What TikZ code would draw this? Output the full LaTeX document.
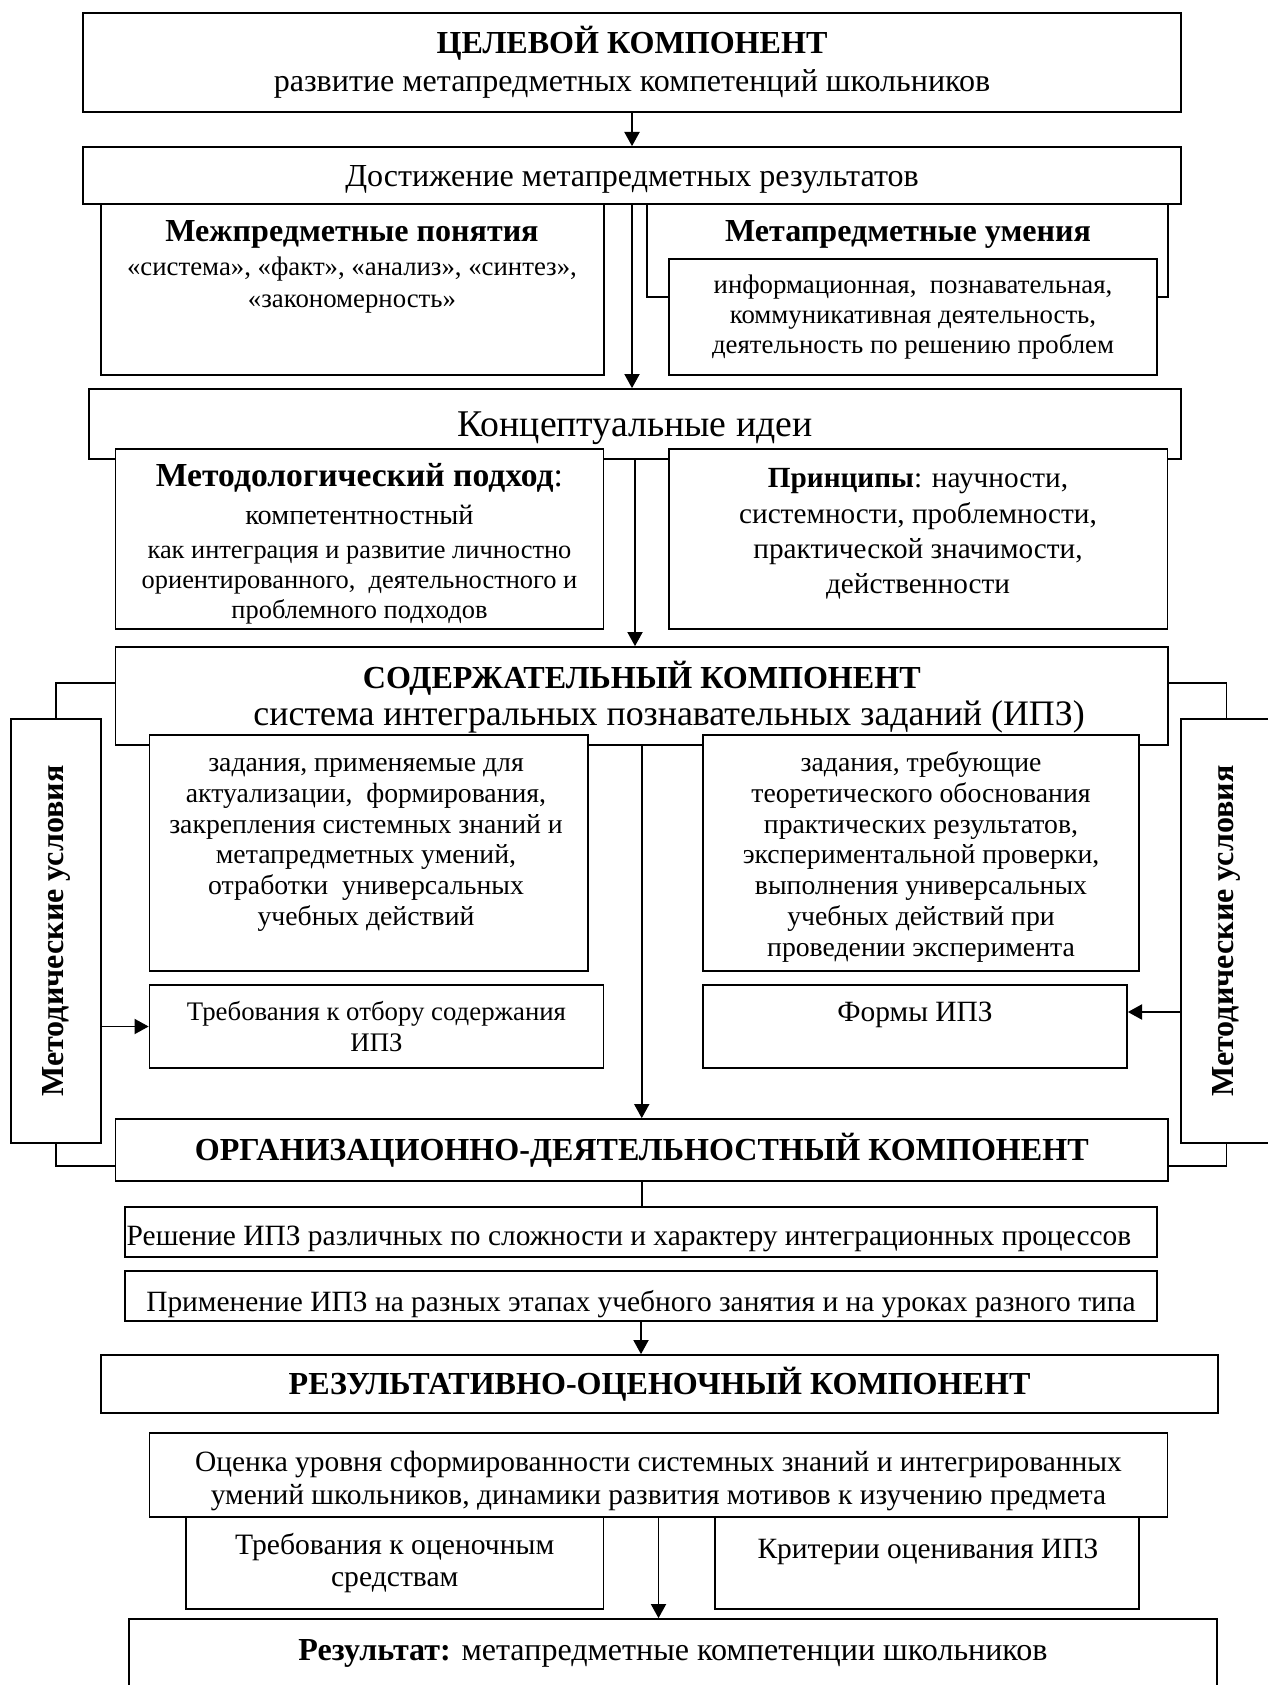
\documentclass[tikz,border=0pt]{standalone}
\usepackage{fontspec}
\setmainfont{Liberation Serif}
\usepackage{tikz}
\usetikzlibrary{arrows.meta,positioning}

\begin{document}
\begin{tikzpicture}[x=0.53pt, y=-0.53pt,
    box/.style={draw, line width=0.9pt, fill=white, inner sep=0pt, align=center},
    wh/.style 2 args={minimum width=#1*0.53pt, minimum height=#2*0.53pt},
    txt/.style={inner sep=0pt, align=center},
    link/.style={line width=0.9pt},
    arr/.style={line width=0.9pt, -{Triangle[length=7.5pt, width=8pt]}},
    f14/.style={font=\fontsize{14.2}{16}\selectfont},
    f15/.style={font=\fontsize{15.6}{18}\selectfont},
    f17/.style={font=\fontsize{17}{19.9}\selectfont},
    vert/.style={font=\fontsize{17}{19.9}\selectfont\bfseries}]
    \useasboundingbox (0,0) rectangle (1267,1685);

    % Goal component
    \node[box, f17, wh={1098}{99}] (goal) at (632,62.5) {\textbf{ЦЕЛЕВОЙ КОМПОНЕНТ}\\развитие метапредметных компетенций школьников};
    \node[box, wh={1098}{57}] (achieve) at (632,175.5) {};
    \node[txt, f17] (achievetxt) at (632,179) {Достижение метапредметных результатов};
    \draw[arr] (goal.south) -- (goal.south |- achieve.north);

    \node[box, wh={503}{171}] (concepts) at (352.5,289.5) {};
    \node[txt, f14] (conceptstxt) at (352,267) {{\fontsize{17}{19.9}\selectfont\bfseries Межпредметные понятия}\\[2pt]«система», «факт», «анализ», «синтез»,\\[1pt]«закономерность»};
    \node[box, wh={521}{93}] (skills) at (907.5,250.5) {};
    \node[txt, f17] (skillstxt) at (908,234) {\textbf{Метапредметные умения}};
    \node[box, f14, wh={488}{116}] (skillsin) at (913,317) {информационная,\ \ познавательная,\\коммуникативная деятельность,\\деятельность по решению проблем};

    % Conceptual ideas
    \node[box, wh={1092}{70}] (ideas) at (635,424) {};
    \node[txt, font=\fontsize{20}{23}\selectfont] (ideastxt) at (635,428) {Концептуальные идеи};
    \draw[arr] (achieve.south) -- (achieve.south |- ideas.north);
    \node[box, wh={488}{180}] (approach) at (359.5,539) {};
    \node[txt, font=\fontsize{14}{16}\selectfont] (approachtxt) at (359.5,544) {{\fontsize{17.8}{20}\selectfont\textbf{Методологический подход}:}\\[3.9pt]{\fontsize{15}{18}\selectfont компетентностный}\\[2pt]как интеграция и развитие личностно\\ориентированного,\ \ деятельностного и\\проблемного подходов};
    \node[box, wh={498.5}{180}] (principles) at (918.25,539) {};
    \node[txt, font=\fontsize{15.5}{18.8}\selectfont] (principlestxt) at (918,534) {\textbf{Принципы}: научности,\\системности, проблемности,\\практической значимости,\\действенности};

    % Content component
    \node[box, f17, wh={1052.5}{98}] (content) at (641.75,696) {};
    \node[txt, f17] (contenttxt) at (641.75,697) {\textbf{СОДЕРЖАТЕЛЬНЫЙ КОМПОНЕНТ}\\{\fontsize{19}{20}\selectfont\hspace*{29pt}система интегральных познавательных заданий (ИПЗ)}};
    \draw[arr] (ideas.south) -- (ideas.south |- content.north);
    \node[box, wh={438.5}{236}] (tasksl) at (368.75,853) {};
    \node[txt, font=\fontsize{14.7}{16.3}\selectfont] (taskstxtl) at (366,845) {задания, применяемые для\\актуализации,\ \ формирования,\\закрепления системных знаний и\\метапредметных умений,\\отработки\ \ универсальных\\учебных действий};
    \node[box, wh={436}{236}] (tasksr) at (921,853) {};
    \node[txt, font=\fontsize{14.7}{16.3}\selectfont] (taskstxtr) at (921,857) {задания, требующие\\теоретического обоснования\\практических результатов,\\экспериментальной проверки,\\выполнения универсальных\\учебных действий при\\проведении эксперимента};
    \node[box, f14, wh={454}{83}] (selreq) at (376.5,1026.5) {Требования к отбору содержания\\ИПЗ};
    \node[box, wh={424}{83}] (forms) at (915,1026.5) {};
    \node[txt, f15] (formstxt) at (915,1015) {Формы ИПЗ};

    % Methodical conditions
    \node[box, vert, rotate=90, wh={424}{90}] (condl) at (56,931) {Методические условия};
    \node[box, vert, rotate=90, wh={424}{91}] (condr) at (1226.5,931) {Методические условия};

    % Organisational component
    \node[box, f17, wh={1052.5}{62}] (org) at (641.75,1150) {\textbf{ОРГАНИЗАЦИОННО-ДЕЯТЕЛЬНОСТНЫЙ КОМПОНЕНТ}};
    \draw[arr] (content.south) -- (org.north);
    \draw[link] (content.west |- 0,683) -| (condl.east);
    \draw[link] (condl.west) |- (org.west |- 0,1166);
    \draw[link] (content.east |- 0,683) -| (condr.east);
    \draw[link] (condr.west) |- (org.east |- 0,1166);
    \draw[arr] (condl.south |- selreq.west) -- (selreq.west);
    \draw[arr] (condr.north |- 0,1012) -- (forms.east |- 0,1012);

    \node[box, wh={1032}{50}] (solve) at (641,1232) {};
    \node[txt, f15] (solvetxt) at (629,1239) {Решение ИПЗ различных по сложности и характеру интеграционных процессов};
    \node[box, wh={1032}{50}] (apply) at (641,1296) {};
    \node[txt, f15] (applytxt) at (641,1304) {Применение ИПЗ на разных этапах учебного занятия и на уроках разного типа};
    \draw[link] (org.south) -- (org.south |- solve.north);

    % Result component
    \node[box, f17, wh={1117}{58}] (result) at (659.5,1384) {\textbf{РЕЗУЛЬТАТИВНО-ОЦЕНОЧНЫЙ КОМПОНЕНТ}};
    \draw[arr] (apply.south) -- (apply.south |- result.north);
    \node[box, wh={1018}{84}] (assess) at (658.5,1475) {};
    \node[txt, font=\fontsize{15.6}{17.7}\selectfont] (assesstxt) at (658.5,1481) {Оценка уровня сформированности системных знаний и интегрированных\\умений школьников, динамики развития мотивов к изучению предмета};
    \node[box, font=\fontsize{15.7}{17.1}\selectfont, wh={417.5}{92}] (evalreq) at (394.75,1563) {Требования к оценочным\\средствам};
    \node[box, wh={424}{92}] (criteria) at (927,1563) {};
    \node[txt, f15] (criteriatxt) at (928,1552) {Критерии оценивания ИПЗ};
    \node[box, f17, wh={1088}{68}] (outcome) at (673,1653) {\textbf{Результат:} метапредметные компетенции школьников};
    \draw[arr] (assess.south) -- (assess.south |- outcome.north);
\end{tikzpicture}
\end{document}
